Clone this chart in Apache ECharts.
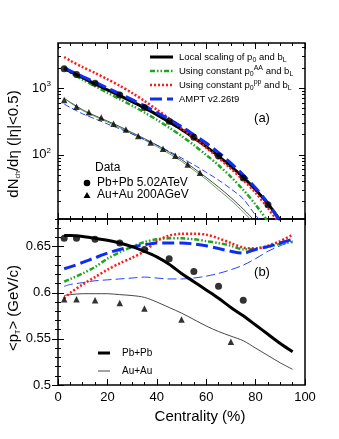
<!DOCTYPE html>
<html>
<head>
<meta charset="utf-8">
<script src="https://cdn.jsdelivr.net/npm/echarts@6/dist/echarts.min.js"></script>
<style>
  html, body { margin: 0; padding: 0; background: #fff; }
  #chart { width: 339px; height: 439px; }
</style>
</head>
<body>
<div id="chart"></div>
<script>
// ---- data ----
var centCurve = [2.5, 5, 10, 15, 20, 25, 30, 35, 40, 45, 50, 55, 60, 65, 70, 75, 80, 85, 90];
// (a) dNch/deta, Pb+Pb curves
var pbLocal   = [1960, 1760, 1420, 1150, 935, 770, 625, 505, 400, 310, 240, 180, 133, 96, 67, 46, 30, 18.5, 10.5];
var pbConstAA = [1960, 1700, 1330, 1060, 850, 680, 545, 430, 335, 255, 192, 140, 100, 70, 47, 30, 18, 10, 5];
var pbConstPP = [2900, 2550, 2050, 1680, 1350, 1080, 840, 640, 475, 350, 250, 180, 128, 90, 62, 42, 27, 16, 9];
var pbAmpt    = [2000, 1800, 1480, 1220, 1000, 820, 670, 540, 430, 340, 265, 200, 150, 108, 75, 50, 32, 19, 10];
// (a) Au+Au curves
var auLocal   = [700, 610, 470, 385, 320, 265, 215, 175, 140, 110, 85, 63, 46, 33, 23, 15.5, 10, 6, 3.5];
var auConstAA = [700, 600, 460, 375, 310, 255, 207, 167, 133, 104, 80, 59, 43, 30, 21, 14, 9, 5, 3];
var auAmpt    = [575, 510, 410, 345, 290, 245, 205, 170, 140, 113, 90, 71, 55, 42, 31, 22, 12.5, 8, 5];
// (a) data points
var pbDataCent = [2.5, 7.5, 15, 25, 35, 45, 55, 65, 75, 85];
var pbDataDn   = [1943, 1587, 1180, 786, 512, 318, 183, 96, 45, 18];
var auDataCent = [2.5, 7.5, 12.5, 17.5, 22.5, 27.5, 32.5, 37.5, 42.5, 47.5, 52.5, 57.5];
var auDataDn   = [661, 526, 433, 361, 293, 239, 192, 153, 123, 97, 72, 54];

// (b) <pT>
var centPt = [2.5, 5, 10, 15, 20, 25, 30, 35, 40, 45, 50, 55, 60, 65, 70, 75, 80, 85, 90, 95];
var ptPbLocal   = [0.662, 0.662, 0.661, 0.659, 0.657, 0.654, 0.650, 0.645, 0.639, 0.631, 0.621, 0.612, 0.603, 0.594, 0.584, 0.575, 0.565, 0.555, 0.545, 0.536];
var ptPbConstAA = [0.612, 0.615, 0.621, 0.628, 0.637, 0.644, 0.650, 0.655, 0.658, 0.659, 0.659, 0.658, 0.656, 0.654, 0.651, 0.647, 0.648, 0.650, 0.653, 0.655];
var ptPbConstPP = [0.594, 0.600, 0.609, 0.617, 0.625, 0.632, 0.638, 0.645, 0.656, 0.662, 0.664, 0.664, 0.663, 0.659, 0.654, 0.649, 0.648, 0.651, 0.656, 0.663];
var ptPbAmpt    = [0.626, 0.628, 0.633, 0.638, 0.643, 0.647, 0.650, 0.652, 0.654, 0.654, 0.654, 0.653, 0.651, 0.648, 0.645, 0.643, 0.647, 0.650, 0.654, 0.658];
var ptAuLocal   = [0.597, 0.598, 0.599, 0.599, 0.599, 0.598, 0.597, 0.595, 0.590, 0.584, 0.578, 0.571, 0.564, 0.558, 0.553, 0.548, 0.540, 0.532, 0.524, 0.517];
var ptAuAmpt    = [0.607, 0.609, 0.611, 0.613, 0.614, 0.615, 0.616, 0.617, 0.616, 0.615, 0.615, 0.616, 0.618, 0.621, 0.625, 0.630, 0.637, 0.645, 0.651, 0.656];
var ptPbDataCent = [2.5, 7.5, 15, 25, 35, 45, 55, 65, 75];
var ptPbData     = [0.659, 0.659, 0.658, 0.654, 0.647, 0.637, 0.623, 0.607, 0.592];
var ptAuDataCent = [2.5, 7.5, 15, 25, 35, 50, 70];
var ptAuData     = [0.593, 0.593, 0.592, 0.589, 0.583, 0.571, 0.547];

// axis ticks
var logMajor = [100, 1000];
var logMinor = [20, 30, 40, 50, 60, 70, 80, 90, 200, 300, 400, 500, 600, 700, 800, 900, 2000, 3000, 4000];
var ptLabels = [0.5, 0.55, 0.6, 0.65];

(function chart() {
  var myChart = echarts.init(document.getElementById('chart'));
  var FONT = 'Liberation Sans';

  function pairs(xs, ys) {
    return xs.map(function (x, i) { return [x, ys[i]]; });
  }
  function line(name, xi, yi, xs, ys, color, width, type) {
    return {
      name: name, type: 'line', xAxisIndex: xi, yAxisIndex: yi,
      data: pairs(xs, ys), smooth: 0.3, symbol: 'none', clip: true,
      lineStyle: { color: color, width: width, type: type },
      z: 3
    };
  }
  function points(xi, yi, xs, ys, sym) {
    return {
      type: 'scatter', xAxisIndex: xi, yAxisIndex: yi,
      data: pairs(xs, ys), symbol: sym, symbolSize: sym == 'circle' ? 7 : 6.5,
      itemStyle: { color: '#000' }, z: 5
    };
  }

  var GREEN = '#1ea51e', RED = '#ff1a1a', BLUE = '#0d2ef0';
  var DASHDOT = [5, 2, 1.5, 2, 1.5, 2];

  var xBase = {
    type: 'value', min: 0, max: 100, interval: 20,
    axisLine: { show: false }, splitLine: { show: false },
    axisTick: { inside: true, length: 6, lineStyle: { color: '#000', width: 1 } },
    minorTick: { show: true, splitNumber: 4, length: 3, lineStyle: { color: '#000', width: 1 } },
    axisLabel: { show: false }
  };
  function xAxis(grid, pos, labels) {
    var a = echarts.util.clone(xBase);
    a.gridIndex = grid; a.position = pos;
    if (labels) {
      a.axisLabel = { show: true, color: '#000', fontFamily: FONT, fontSize: 13, margin: 6 };
    }
    return a;
  }
  function logAxis(pos, ticks, len, labels) {
    return {
      type: 'log', gridIndex: 0, position: pos, min: 11, max: 4700, logBase: 10,
      axisLine: { show: false }, splitLine: { show: false },
      axisTick: { inside: true, length: len, customValues: ticks, lineStyle: { color: '#000', width: 1 } },
      axisLabel: labels ? {
        show: true, customValues: logMajor, margin: 7,
        formatter: function (v) { return '10{sup|' + Math.round(Math.log10(v)) + '}'; },
        color: '#000', fontFamily: FONT, fontSize: 13,
        rich: { sup: { fontSize: 8, fontFamily: FONT, color: '#000', verticalAlign: 'top', padding: [0, 0, 8, 0] } }
      } : { show: false }
    };
  }
  function ptAxis(pos, labels) {
    return {
      type: 'value', gridIndex: 1, position: pos, min: 0.5, max: 0.68, interval: 0.05,
      axisLine: { show: false }, splitLine: { show: false },
      axisTick: { inside: true, length: 6, customValues: ptLabels, lineStyle: { color: '#000', width: 1 } },
      minorTick: { show: true, splitNumber: 5, length: 3, lineStyle: { color: '#000', width: 1 } },
      axisLabel: labels ? {
        show: true, customValues: ptLabels, color: '#000', fontFamily: FONT, fontSize: 13, margin: 7
      } : { show: false }
    };
  }

  var subRich = {
    sub: { fontSize: 7, fontFamily: FONT, color: '#000', verticalAlign: 'bottom', padding: [6, 0, 0, 0] },
    sup: { fontSize: 7, fontFamily: FONT, color: '#000', padding: [0, 0, 6, 0] }
  };
  function txt(x, y, text, size, extra) {
    var s = { text: text, fontFamily: FONT, fontSize: size, fill: '#000', rich: subRich };
    for (var k in (extra || {})) s[k] = extra[k];
    return { type: 'text', x: x, y: y, style: s, z: 100 };
  }
  function seg(x1, x2, y, color, w, dash) {
    return { type: 'line', shape: { x1: x1, y1: y, x2: x2, y2: y }, style: { stroke: color, lineWidth: w, lineDash: dash || null }, z: 100 };
  }

  var option = {
    animation: false,
    backgroundColor: '#fff',
    grid: [
      { left: 58, top: 43, width: 247, height: 176, show: true, borderColor: '#000', borderWidth: 1.5, backgroundColor: 'transparent' },
      { left: 58, top: 219, width: 247, height: 166, show: true, borderColor: '#000', borderWidth: 1.5, backgroundColor: 'transparent' }
    ],
    xAxis: [
      xAxis(0, 'bottom', false), xAxis(0, 'top', false),
      xAxis(1, 'bottom', true), xAxis(1, 'top', false)
    ],
    yAxis: [
      logAxis('left', logMajor, 6, true),
      logAxis('left', logMinor, 3, false),
      logAxis('right', logMajor, 6, false),
      logAxis('right', logMinor, 3, false),
      ptAxis('left', true),
      ptAxis('right', false)
    ],
    series: [
      // (a)
      line('Au local', 0, 0, centCurve, auLocal, '#333', 0.9, 'solid'),
      line('Au constAA', 0, 0, centCurve, auConstAA, '#4c9a4c', 0.9, 'solid'),
      line('Au AMPT', 0, 0, centCurve, auAmpt, BLUE, 0.9, [6, 3]),
      line('Pb constAA', 0, 0, centCurve, pbConstAA, GREEN, 2.5, DASHDOT),
      line('Pb local', 0, 0, centCurve, pbLocal, '#000', 3, 'solid'),
      line('Pb constPP', 0, 0, centCurve, pbConstPP, RED, 2.5, [2, 2]),
      line('Pb AMPT', 0, 0, centCurve, pbAmpt, BLUE, 3, [12, 5]),
      points(0, 0, pbDataCent, pbDataDn, 'circle'),
      points(0, 0, auDataCent, auDataDn, 'triangle'),
      // (b)
      line('pt Au local', 2, 4, centPt, ptAuLocal, '#333', 0.9, 'solid'),
      line('pt Au AMPT', 2, 4, centPt, ptAuAmpt, BLUE, 0.9, [9, 4]),
      line('pt Pb constAA', 2, 4, centPt, ptPbConstAA, GREEN, 2.5, DASHDOT),
      line('pt Pb constPP', 2, 4, centPt, ptPbConstPP, RED, 2.5, [2, 2]),
      line('pt Pb AMPT', 2, 4, centPt, ptPbAmpt, BLUE, 3, [12, 5]),
      line('pt Pb local', 2, 4, centPt, ptPbLocal, '#000', 3, 'solid'),
      points(2, 4, ptPbDataCent, ptPbData, 'circle'),
      points(2, 4, ptAuDataCent, ptAuData, 'triangle')
    ],
    graphic: [
      // axis titles
      txt(14, 144, 'dN{sub|ch}/dη (|η|<0.5)', 15, { align: 'center', verticalAlign: 'middle' }),
      txt(14, 308, '<p{sub|T}> (GeV/c)', 15, { align: 'center', verticalAlign: 'middle' }),
      txt(200, 417, 'Centrality (%)', 15, { align: 'center', verticalAlign: 'middle' }),
      txt(262, 118, '(a)', 13, { align: 'center', verticalAlign: 'middle' }),
      txt(262, 272, '(b)', 13, { align: 'center', verticalAlign: 'middle' }),
      // legend (a)
      seg(150, 173, 57, '#000', 3),
      txt(179, 57, 'Local scaling of p{sub|0} and b{sub|L}', 9.5, { verticalAlign: 'middle' }),
      seg(150, 173, 71, GREEN, 2.5, DASHDOT),
      txt(179, 71, 'Using constant p{sub|0}{sup|AA} and b{sub|L}', 9.5, { verticalAlign: 'middle' }),
      seg(150, 173, 85, RED, 2.5, [2, 2]),
      txt(179, 85, 'Using constant p{sub|0}{sup|pp} and b{sub|L}', 9.5, { verticalAlign: 'middle' }),
      seg(150, 173, 99, BLUE, 3, [12, 5]),
      txt(179, 99, 'AMPT v2.26t9', 9.5, { verticalAlign: 'middle' }),
      // data legend
      txt(95, 168, 'Data', 12, { verticalAlign: 'middle' }),
      { type: 'circle', shape: { cx: 87, cy: 183, r: 3.3 }, style: { fill: '#000' }, z: 100 },
      txt(97, 183, 'Pb+Pb 5.02ATeV', 12, { verticalAlign: 'middle' }),
      { type: 'polygon', shape: { points: [[87, 192], [83.5, 198], [90.5, 198]] }, style: { fill: '#000' }, z: 100 },
      txt(97, 195, 'Au+Au 200AGeV', 12, { verticalAlign: 'middle' }),
      // legend (b)
      seg(98, 110, 353, '#000', 3),
      txt(122, 353, 'Pb+Pb', 10, { verticalAlign: 'middle' }),
      seg(98, 110, 371, '#333', 0.9),
      txt(122, 371, 'Au+Au', 10, { verticalAlign: 'middle' })
    ]
  };
  // rotate the y titles
  option.graphic[0].rotation = Math.PI / 2;
  option.graphic[1].rotation = Math.PI / 2;

  myChart.setOption(option);
  window.addEventListener('resize', function () {
    myChart.resize();
  });
})();
</script>
</body>
</html>
